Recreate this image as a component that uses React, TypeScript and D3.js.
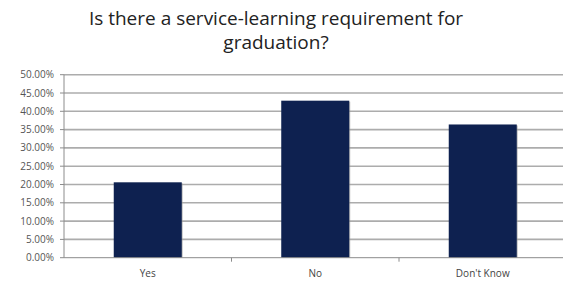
import { useEffect, useRef } from "react";
import * as d3 from "d3";

const categories = ["Yes", "No", "Don't Know"];
const values = [0.206, 0.429, 0.364];
const yTicks = [0, 0.05, 0.1, 0.15, 0.2, 0.25, 0.3, 0.35, 0.4, 0.45, 0.5];
const titleLines = ["Is there a service-learning requirement for", "graduation?"];

const width = 563;
const height = 286;

export default function App() {
  const svgRef = useRef<SVGSVGElement>(null);

  useEffect(() => {
    const svg = d3.select(svgRef.current);
    svg.selectAll("*").remove();

    const left = 64;
    const right = 566.5;
    const top = 74.7;
    const bottom = 257.7;

    const x = d3.scaleBand().domain(categories).range([left, right]).padding(0);
    const y = d3.scaleLinear().domain([0, 0.5]).range([bottom, top]);
    const fmt = d3.format(".2%");
    const barW = x.bandwidth() * 0.406;

    // title
    svg.append("g")
      .selectAll("text")
      .data(titleLines)
      .join("text")
      .attr("x", 276)
      .attr("y", (d, i) => 25 + i * 24)
      .attr("text-anchor", "middle")
      .attr("font-family", "Open Sans")
      .attr("font-size", 19)
      .attr("fill", "#222")
      .text(d => d);

    // gridlines
    svg.append("g")
      .selectAll("line")
      .data(yTicks.slice(1))
      .join("line")
      .attr("x1", left)
      .attr("x2", width)
      .attr("y1", d => y(d))
      .attr("y2", d => y(d))
      .attr("stroke", "#acacac")
      .attr("stroke-width", 1.6);

    // y axis
    const yAxis = svg.append("g");
    yAxis.append("line")
      .attr("x1", left).attr("x2", left)
      .attr("y1", top).attr("y2", bottom)
      .attr("stroke", "#8c8c8c");
    yAxis.selectAll("line.tick")
      .data(yTicks)
      .join("line")
      .attr("class", "tick")
      .attr("x1", left - 4).attr("x2", left)
      .attr("y1", d => y(d)).attr("y2", d => y(d))
      .attr("stroke", "#8c8c8c");
    yAxis.selectAll("text")
      .data(yTicks)
      .join("text")
      .attr("x", 54)
      .attr("y", d => y(d) + 3.5)
      .attr("text-anchor", "end")
      .attr("font-family", "Open Sans")
      .attr("font-size", 10)
      .attr("fill", "#555")
      .text(d => fmt(d));

    // bars with faint shadow
    const bars = svg.append("g");
    bars.selectAll("rect.shadow")
      .data(values)
      .join("rect")
      .attr("class", "shadow")
      .attr("x", (d, i) => x(categories[i])! + x.bandwidth() / 2 - barW / 2 + 1)
      .attr("y", d => y(d) + 1)
      .attr("width", barW)
      .attr("height", d => bottom - y(d) - 1)
      .attr("fill", "#9a9a9a")
      .attr("opacity", 0.6);
    bars.selectAll("rect.bar")
      .data(values)
      .join("rect")
      .attr("class", "bar")
      .attr("x", (d, i) => x(categories[i])! + x.bandwidth() / 2 - barW / 2)
      .attr("y", d => y(d))
      .attr("width", barW)
      .attr("height", d => bottom - y(d))
      .attr("fill", "#0e2150");

    // x axis
    const xAxis = svg.append("g");
    xAxis.append("line")
      .attr("x1", left).attr("x2", right)
      .attr("y1", bottom).attr("y2", bottom)
      .attr("stroke", "#8c8c8c");
    xAxis.selectAll("line.tick")
      .data(categories.slice(1))
      .join("line")
      .attr("class", "tick")
      .attr("x1", d => x(d)!).attr("x2", d => x(d)!)
      .attr("y1", bottom).attr("y2", bottom + 4)
      .attr("stroke", "#8c8c8c");
    xAxis.selectAll("text")
      .data(categories)
      .join("text")
      .attr("x", d => x(d)! + x.bandwidth() / 2)
      .attr("y", 277)
      .attr("text-anchor", "middle")
      .attr("font-family", "Open Sans")
      .attr("font-size", 10)
      .attr("fill", "#444")
      .text(d => d);
  }, []);

  return (
    <div style={{ position: "absolute", left: 0, top: 0 }}>
      <svg ref={svgRef} width={width} height={height} style={{ display: "block", background: "#fff" }} />
    </div>
  );
}
